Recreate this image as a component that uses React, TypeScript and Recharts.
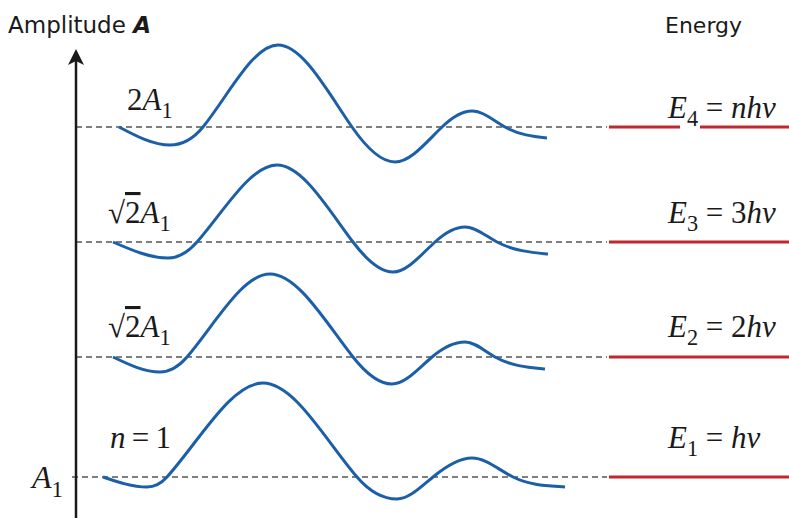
import { LineChart, Line, XAxis, YAxis, ReferenceLine } from 'recharts'

// x: distance to the right of the amplitude axis, y: height above the A1 level
const levels = [0, 120, 235, 350]

const wave1 = [[27, 0], [71, -10], [91, 0], [187, 94], [281, 0], [321, -22], [357, 0], [396, 19], [437, 0], [489, -10]]
const wave2 = [[37, 0], [84, -15], [111, 0], [194, 83], [277, 0], [316, -27], [356, 0], [389, 15], [419, 0], [469, -12]]
const wave3 = [[37, 0], [92, -16], [121, 0], [201, 77], [277, 0], [317, -30], [359, 0], [389, 15], [421, 0], [472, -12]]
const wave4 = [[43, 0], [94, -18], [127, 0], [202, 82], [276, 0], [319, -35], [366, 0], [396, 16], [429, 0], [471, -11]]

const waves = [wave1, wave2, wave3, wave4]

type Part = { t: string; i?: boolean; sub?: boolean; over?: boolean }

const amplitudeLabels: Part[][] = [
  [{ t: 'n', i: true }, { t: '\u2009=\u20091' }],
  [{ t: '\u221A' }, { t: '2', over: true }, { t: 'A', i: true }, { t: '1', sub: true }],
  [{ t: '\u221A' }, { t: '2', over: true }, { t: 'A', i: true }, { t: '1', sub: true }],
  [{ t: '2' }, { t: 'A', i: true }, { t: '1', sub: true }],
]

const energyLabels: Part[][] = [
  [{ t: 'E', i: true }, { t: '1', sub: true }, { t: ' = ' }, { t: 'h\u03BD', i: true }],
  [{ t: 'E', i: true }, { t: '2', sub: true }, { t: ' = 2' }, { t: 'h\u03BD', i: true }],
  [{ t: 'E', i: true }, { t: '3', sub: true }, { t: ' = 3' }, { t: 'h\u03BD', i: true }],
  [{ t: 'E', i: true }, { t: '4', sub: true }, { t: ' = ' }, { t: 'nh\u03BD', i: true }],
]

const baseLabel: Part[] = [{ t: 'A', i: true }, { t: '1', sub: true }]

const BLUE = '#1b5fa8'
const RED = '#c1272d'
const INK = '#1a1a1a'
const MATH_FONT = '"Liberation Serif", serif'

// hermite curve: flat at the turning points, sine-like slope where the wave crosses its level
const waveCurve = (ctx: any) => {
  let xs: number[] = []
  let ys: number[] = []
  return {
    areaStart() {},
    areaEnd() {},
    lineStart() {
      xs = []
      ys = []
    },
    point(x: number, y: number) {
      xs.push(+x)
      ys.push(+y)
    },
    lineEnd() {
      const n = xs.length
      if (!n) return
      const sec = (i: number) => (ys[i + 1] - ys[i]) / (xs[i + 1] - xs[i])
      const m: number[] = []
      for (let i = 0; i < n; i++) {
        if (i === 0) m.push(n > 1 ? sec(0) * 1.5 : 0)
        else if (i === n - 1) m.push(sec(i - 1) * 0.4)
        else {
          const a = sec(i - 1)
          const b = sec(i)
          m.push(a * b <= 0 ? 0 : ((a + b) / 2) * 1.5)
        }
      }
      ctx.moveTo(xs[0], ys[0])
      for (let i = 0; i < n - 1; i++) {
        const h = (xs[i + 1] - xs[i]) / 3
        ctx.bezierCurveTo(xs[i] + h, ys[i] + m[i] * h, xs[i + 1] - h, ys[i + 1] - m[i + 1] * h, xs[i + 1], ys[i + 1])
      }
    },
  }
}

function MathText({ x, y, parts, size }: { x: number; y: number; parts: Part[]; size: number }) {
  let shift = 0
  return (
    <text x={x} y={y} fontFamily={MATH_FONT} fontSize={size} fill={INK}>
      {parts.map((p, k) => {
        const target = p.sub ? size * 0.27 : 0
        const dy = target - shift
        shift = target
        return (
          <tspan
            key={k}
            dy={dy}
            fontStyle={p.i ? 'italic' : 'normal'}
            fontSize={p.sub ? size * 0.72 : size}
            style={p.over ? { textDecoration: 'overline' } : undefined}
          >
            {p.t}
          </tspan>
        )
      })}
    </text>
  )
}

const mathLabel = (parts: Part[], dx: number, dy: number, size: number) => (props: any) => {
  const vb = props.viewBox
  return <MathText x={vb.x + dx} y={vb.y + dy} parts={parts} size={size} />
}

const axisShape = (p: any) => (
  <g>
    <line x1={p.x1} y1={p.y1} x2={p.x2} y2={p.y2 + 10} stroke={INK} strokeWidth={2.5} />
    <path
      d={`M${p.x2},${p.y2} L${p.x2 - 8},${p.y2 + 16} L${p.x2},${p.y2 + 12} L${p.x2 + 8},${p.y2 + 16} Z`}
      fill={INK}
    />
  </g>
)

const ampDx = [34, 32, 32, 51]
const ampLift = [29, 20, 19, 17]
const enLift = [29, 20, 19, 9]

export default function App() {
  return (
    <div style={{ position: 'absolute', left: 0, top: 0, width: 789, height: 518, background: '#fff' }}>
      <LineChart width={789} height={518} margin={{ top: 0, right: 0, bottom: 0, left: 0 }}>
        <XAxis type="number" dataKey="t" domain={[-76, 713]} allowDataOverflow hide />
        <YAxis type="number" dataKey="y" domain={[-41, 477]} allowDataOverflow hide />

        <text x={8} y={33} fontFamily="'DejaVu Sans', sans-serif" fontSize={23} fill={INK}>
          Amplitude <tspan fontWeight="bold" fontStyle="italic">A</tspan>
        </text>
        <text x={665} y={33} fontFamily="'DejaVu Sans', sans-serif" fontSize={22} fill={INK}>
          Energy
        </text>

        {levels.map((lv, k) => (
          <ReferenceLine
            key={`d${k}`}
            segment={[{ x: k === 0 ? -4 : 0, y: lv }, { x: 531, y: lv }]}
            stroke="#555"
            strokeWidth={1.5}
            strokeDasharray="6 4"
            label={mathLabel(amplitudeLabels[k], ampDx[k] + (k === 0 ? 4 : 0), -ampLift[k], 31)}
          />
        ))}
        <ReferenceLine
          segment={[{ x: -4, y: 0 }, { x: 0, y: 0 }]}
          stroke="none"
          label={mathLabel(baseLabel, -40, 11, 32)}
        />

        <ReferenceLine segment={[{ x: 533, y: levels[3] }, { x: 604, y: levels[3] }]} stroke={RED} strokeWidth={3} />
        {levels.map((lv, k) => (
          <ReferenceLine
            key={`e${k}`}
            segment={[{ x: k === 3 ? 624 : 533, y: lv }, { x: 713, y: lv }]}
            stroke={RED}
            strokeWidth={3}
            label={mathLabel(energyLabels[k], k === 3 ? -32 : 59, -enLift[k], 31)}
          />
        ))}

        <ReferenceLine segment={[{ x: 0, y: -41 }, { x: 0, y: 428 }]} shape={axisShape} />

        {waves.map((w, k) => (
          <Line
            key={`w${k}`}
            data={w.map(([t, a]) => ({ t, y: levels[k] + a }))}
            dataKey="y"
            type={waveCurve as any}
            stroke={BLUE}
            strokeWidth={3}
            dot={false}
            activeDot={false}
            isAnimationActive={false}
          />
        ))}
      </LineChart>
    </div>
  )
}
